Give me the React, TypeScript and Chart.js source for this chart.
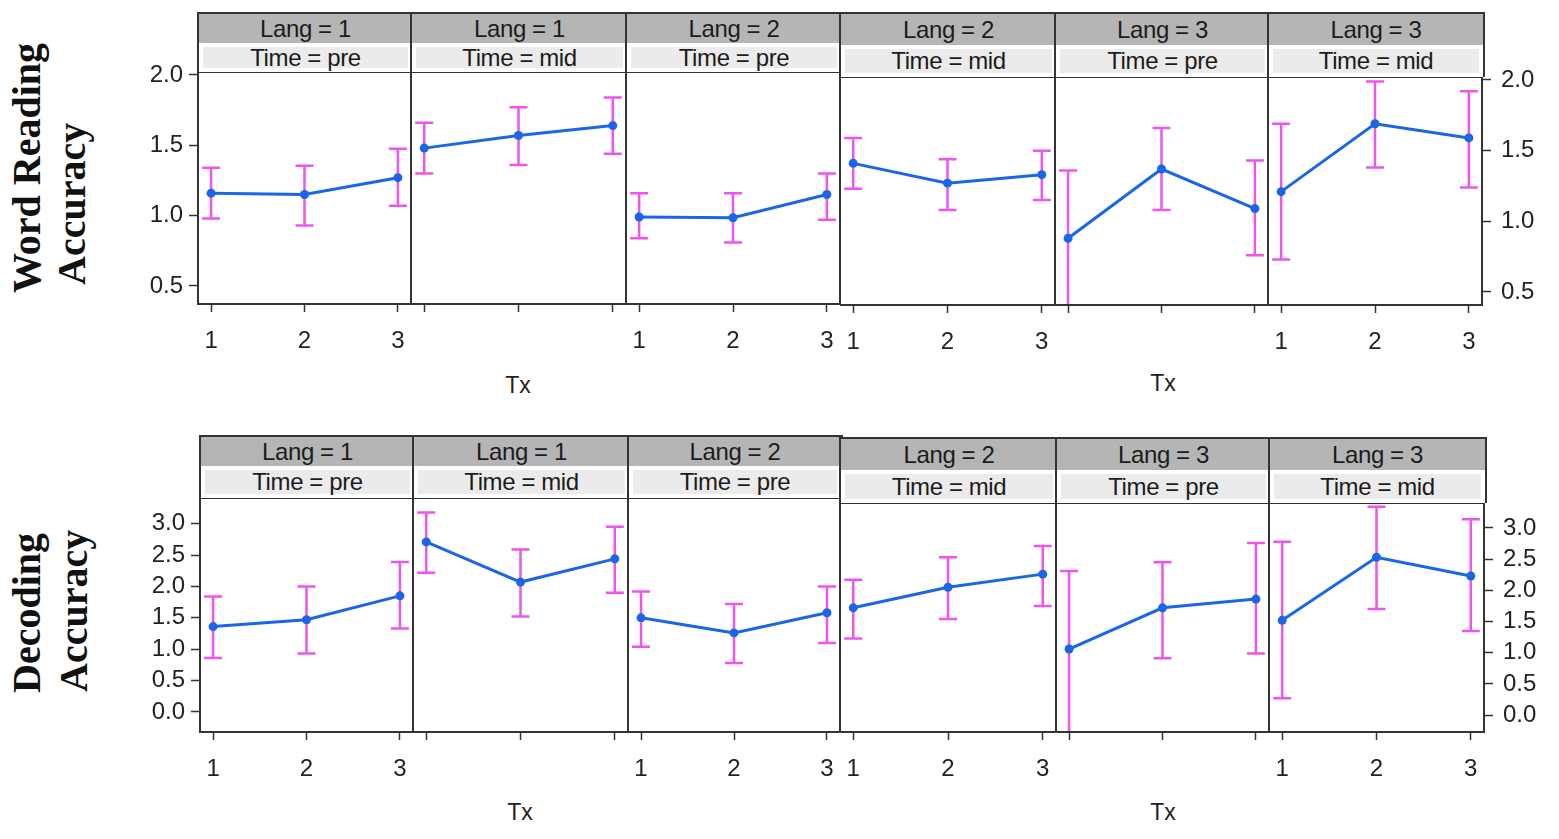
import React, { useEffect, useRef } from "react";
import { Chart, registerables } from "chart.js";

Chart.register(...registerables);
Chart.defaults.font.family = "'Liberation Sans', Arial, sans-serif";

// ---- data ----
const txLevels = [1, 2, 3];
const langLabels = ["1", "1", "2", "2", "3", "3"];
const timeLabels = ["pre", "mid", "pre", "mid", "pre", "mid"];

const wordTicks = [0.5, 1.0, 1.5, 2.0];
const wordMeans = [
  [1.16, 1.15, 1.27],
  [1.48, 1.57, 1.64],
  [0.99, 0.985, 1.15],
  [1.41, 1.27, 1.33],
  [0.88, 1.37, 1.09],
  [1.21, 1.69, 1.59],
];
const wordLower = [
  [0.98, 0.93, 1.07],
  [1.3, 1.36, 1.44],
  [0.84, 0.81, 0.97],
  [1.23, 1.08, 1.15],
  [0.38, 1.08, 0.76],
  [0.73, 1.38, 1.24],
];
const wordUpper = [
  [1.34, 1.355, 1.475],
  [1.66, 1.77, 1.84],
  [1.16, 1.16, 1.3],
  [1.59, 1.44, 1.5],
  [1.36, 1.66, 1.43],
  [1.69, 1.99, 1.92],
];

const decTicks = [0.0, 0.5, 1.0, 1.5, 2.0, 2.5, 3.0];
const decMeans = [
  [1.36, 1.47, 1.85],
  [2.71, 2.07, 2.44],
  [1.5, 1.26, 1.58],
  [1.72, 2.05, 2.26],
  [1.06, 1.72, 1.86],
  [1.52, 2.53, 2.23],
];
const decLower = [
  [0.86, 0.93, 1.33],
  [2.22, 1.52, 1.9],
  [1.04, 0.78, 1.1],
  [1.23, 1.54, 1.75],
  [-0.3, 0.91, 0.99],
  [0.27, 1.7, 1.35],
];
const decUpper = [
  [1.84, 2.0, 2.39],
  [3.18, 2.59, 2.95],
  [1.92, 1.72, 2.0],
  [2.17, 2.53, 2.71],
  [2.31, 2.45, 2.76],
  [2.78, 3.34, 3.14],
];

// ---- layout (two stitched lattice figures per row) ----
const xMin = 0.86;
const xMax = 3.14;
const INK = "#333333";
const BLUE = "#1a66e6";
const MAGENTA = "#ee55ee";

type Group = {
  edges: number[];
  stripTop: number;
  stripMid: number;
  plotTop: number;
  plotBottom: number;
  yMin: number;
  yMax: number;
};

const topGroups: Group[] = [
  { edges: [198, 411, 626, 840], stripTop: 13, stripMid: 43, plotTop: 72, plotBottom: 304, yMin: 0.372, yMax: 2.021 },
  { edges: [840, 1055, 1268, 1482], stripTop: 13, stripMid: 45, plotTop: 77, plotBottom: 305, yMin: 0.408, yMax: 2.021 },
];
const bottomGroups: Group[] = [
  { edges: [200, 413, 628, 840], stripTop: 436, stripMid: 466, plotTop: 498, plotBottom: 732, yMin: -0.32, yMax: 3.41 },
  { edges: [840, 1056, 1269, 1484], stripTop: 438, stripMid: 470, plotTop: 503, plotBottom: 732, yMin: -0.27, yMax: 3.4 },
];

const errorBarPlugin = {
  id: "errorBars",
  beforeDatasetsDraw(chart: any, _args: any, opts: any) {
    const { ctx, chartArea, scales } = chart;
    const lo: number[] = opts.lower || [];
    const hi: number[] = opts.upper || [];
    ctx.save();
    ctx.beginPath();
    ctx.rect(chartArea.left, chartArea.top, chartArea.right - chartArea.left, chartArea.bottom - chartArea.top);
    ctx.clip();
    ctx.strokeStyle = MAGENTA;
    ctx.lineWidth = 2.5;
    const cap = 9;
    txLevels.forEach((tx, i) => {
      const x = scales.x.getPixelForValue(tx);
      const y1 = scales.y.getPixelForValue(lo[i]);
      const y2 = scales.y.getPixelForValue(hi[i]);
      ctx.beginPath();
      ctx.moveTo(x, y1);
      ctx.lineTo(x, y2);
      ctx.moveTo(x - cap, y1);
      ctx.lineTo(x + cap, y1);
      ctx.moveTo(x - cap, y2);
      ctx.lineTo(x + cap, y2);
      ctx.stroke();
    });
    ctx.restore();
  },
  afterDraw(chart: any) {
    const { ctx, chartArea } = chart;
    ctx.save();
    ctx.strokeStyle = INK;
    ctx.lineWidth = 2;
    ctx.strokeRect(chartArea.left, chartArea.top, chartArea.right - chartArea.left, chartArea.bottom - chartArea.top);
    ctx.restore();
  },
};

const TOP_PAD = 24;
const BOTTOM_PAD = 62;
const SIDE_PAD = 80;

// drop Chart.js' label-overflow padding so every plot box sits exactly on its panel edges
function noOverflowPadding(scale: any) {
  scale.paddingLeft = 0;
  scale.paddingRight = 0;
  scale.paddingTop = 0;
  scale.paddingBottom = 0;
}

function Panel({
  left,
  right,
  group,
  means,
  lower,
  upper,
  yTicks,
  showXLabels,
  yAxis,
}: {
  left: number;
  right: number;
  group: Group;
  means: number[];
  lower: number[];
  upper: number[];
  yTicks: number[];
  showXLabels: boolean;
  yAxis: "left" | "right" | "none";
}) {
  const canvasRef = useRef<HTMLCanvasElement>(null);
  const padL = yAxis === "left" ? SIDE_PAD : 0;
  const padR = yAxis === "right" ? SIDE_PAD : 0;

  useEffect(() => {
    if (!canvasRef.current) return;
    const chart = new Chart(canvasRef.current, {
      type: "line",
      data: {
        datasets: [
          {
            data: txLevels.map((tx, i) => ({ x: tx, y: means[i] })),
            borderColor: BLUE,
            backgroundColor: BLUE,
            borderWidth: 3,
            pointRadius: 4.5,
            pointBorderWidth: 0,
            tension: 0,
            clip: false as any,
          },
        ],
      },
      options: {
        animation: false,
        responsive: true,
        maintainAspectRatio: false,
        events: [],
        layout: { autoPadding: false, padding: { top: TOP_PAD, left: 0, right: 0, bottom: 0 } },
        plugins: {
          legend: { display: false },
          tooltip: { enabled: false },
          errorBars: { lower, upper },
        } as any,
        scales: {
          x: {
            type: "linear",
            min: xMin,
            max: xMax,
            afterBuildTicks: (scale: any) => {
              scale.ticks = txLevels.map((v) => ({ value: v }));
            },
            afterFit: (scale: any) => {
              scale.height = BOTTOM_PAD;
              noOverflowPadding(scale);
            },
            border: { display: false },
            grid: { drawOnChartArea: false, drawTicks: true, tickLength: 8, tickColor: INK, tickWidth: 1.5 },
            ticks: {
              padding: 15,
              color: "#222",
              font: { size: 24 },
              maxRotation: 0,
              callback: (v: any) => (showXLabels ? String(v) : ""),
            },
          },
          y: {
            type: "linear",
            display: yAxis !== "none",
            position: yAxis === "right" ? "right" : "left",
            min: group.yMin,
            max: group.yMax,
            afterBuildTicks: (scale: any) => {
              scale.ticks = yTicks.map((v) => ({ value: v }));
            },
            afterFit: (scale: any) => {
              scale.width = yAxis === "none" ? 0 : SIDE_PAD;
              noOverflowPadding(scale);
            },
            border: { display: false },
            grid: { drawOnChartArea: false, drawTicks: true, tickLength: 9, tickColor: INK, tickWidth: 1.5 },
            ticks: {
              padding: yAxis === "right" ? 10 : 6,
              color: "#222",
              font: { size: 24 },
              callback: (v: any) => Number(v).toFixed(1),
            },
          },
        },
      },
      plugins: [errorBarPlugin],
    });
    return () => chart.destroy();
  }, [means, lower, upper, yTicks, showXLabels, yAxis, group]);

  return (
    <div
      style={{
        position: "absolute",
        left: left - padL,
        top: group.plotTop - TOP_PAD,
        width: right - left + padL + padR,
        height: group.plotBottom - group.plotTop + TOP_PAD + BOTTOM_PAD,
      }}
    >
      <canvas ref={canvasRef} />
    </div>
  );
}

function Strip({ left, right, group, lang, time }: { left: number; right: number; group: Group; lang: string; time: string }) {
  const w = right - left;
  const textStyle: React.CSSProperties = {
    position: "absolute",
    inset: 0,
    display: "flex",
    alignItems: "center",
    justifyContent: "center",
    fontFamily: "'Liberation Sans', Arial, sans-serif",
    fontSize: 24,
    color: "#1c1c1c",
    letterSpacing: -0.4,
  };
  return (
    <>
      <div
        style={{
          position: "absolute",
          left: left - 1,
          top: group.stripTop - 1,
          width: w,
          height: group.stripMid - group.stripTop,
          background: "#b5b5b5",
          border: `2px solid ${INK}`,
          boxSizing: "content-box",
        }}
      >
        <div style={textStyle}>{`Lang = ${lang}`}</div>
      </div>
      <div
        style={{
          position: "absolute",
          left: left - 1,
          top: group.stripMid,
          width: w,
          height: group.plotTop - group.stripMid,
          background: "#ffffff",
          borderLeft: `2px solid ${INK}`,
          borderRight: `2px solid ${INK}`,
          boxSizing: "content-box",
        }}
      >
        <div style={{ position: "absolute", left: 4, right: 4, top: 4, bottom: 4, background: "#ebebeb" }} />
        <div style={textStyle}>{`Time = ${time}`}</div>
      </div>
    </>
  );
}

function RotatedText({ text, cx, yStart }: { text: string; cx: number; yStart: number }) {
  const lh = 44;
  return (
    <div
      style={{
        position: "absolute",
        left: cx - lh / 2,
        top: yStart,
        height: lh,
        lineHeight: `${lh}px`,
        whiteSpace: "nowrap",
        transform: "rotate(-90deg)",
        transformOrigin: "0 0",
        fontFamily: "'Liberation Serif', 'Times New Roman', serif",
        fontWeight: 700,
        fontSize: 40,
        color: "#111",
      }}
    >
      {text}
    </div>
  );
}

function Label({ text, x, y }: { text: string; x: number; y: number }) {
  return (
    <div
      style={{
        position: "absolute",
        left: x,
        top: y,
        transform: "translate(-50%, -50%)",
        fontFamily: "'Liberation Sans', Arial, sans-serif",
        fontSize: 23,
        color: "#222",
      }}
    >
      {text}
    </div>
  );
}

function Row({
  groups,
  means,
  lower,
  upper,
  yTicks,
}: {
  groups: Group[];
  means: number[][];
  lower: number[][];
  upper: number[][];
  yTicks: number[];
}) {
  const items: React.ReactNode[] = [];
  groups.forEach((g, gi) => {
    for (let k = 0; k < 3; k++) {
      const p = gi * 3 + k;
      const left = g.edges[k];
      const right = g.edges[k + 1];
      items.push(
        <Panel
          key={`p${p}`}
          left={left}
          right={right}
          group={g}
          means={means[p]}
          lower={lower[p]}
          upper={upper[p]}
          yTicks={yTicks}
          showXLabels={k !== 1}
          yAxis={p === 0 ? "left" : p === 5 ? "right" : "none"}
        />,
      );
      items.push(<Strip key={`s${p}`} left={left} right={right} group={g} lang={langLabels[p]} time={timeLabels[p]} />);
    }
  });
  return <>{items}</>;
}

export default function App() {
  return (
    <div
      style={{
        position: "absolute",
        left: 0,
        top: 0,
        width: 1559,
        height: 839,
        background: "#ffffff",
        overflow: "hidden",
      }}
    >
      <Row groups={topGroups} means={wordMeans} lower={wordLower} upper={wordUpper} yTicks={wordTicks} />
      <Row groups={bottomGroups} means={decMeans} lower={decLower} upper={decUpper} yTicks={decTicks} />

      <RotatedText text="Word Reading" cx={27} yStart={293} />
      <RotatedText text="Accuracy" cx={72} yStart={285} />
      <RotatedText text="Decoding" cx={27} yStart={693} />
      <RotatedText text="Accuracy" cx={74} yStart={692} />

      <Label text="Tx" x={518} y={385} />
      <Label text="Tx" x={1163} y={383} />
      <Label text="Tx" x={520} y={812} />
      <Label text="Tx" x={1163} y={812} />
    </div>
  );
}
